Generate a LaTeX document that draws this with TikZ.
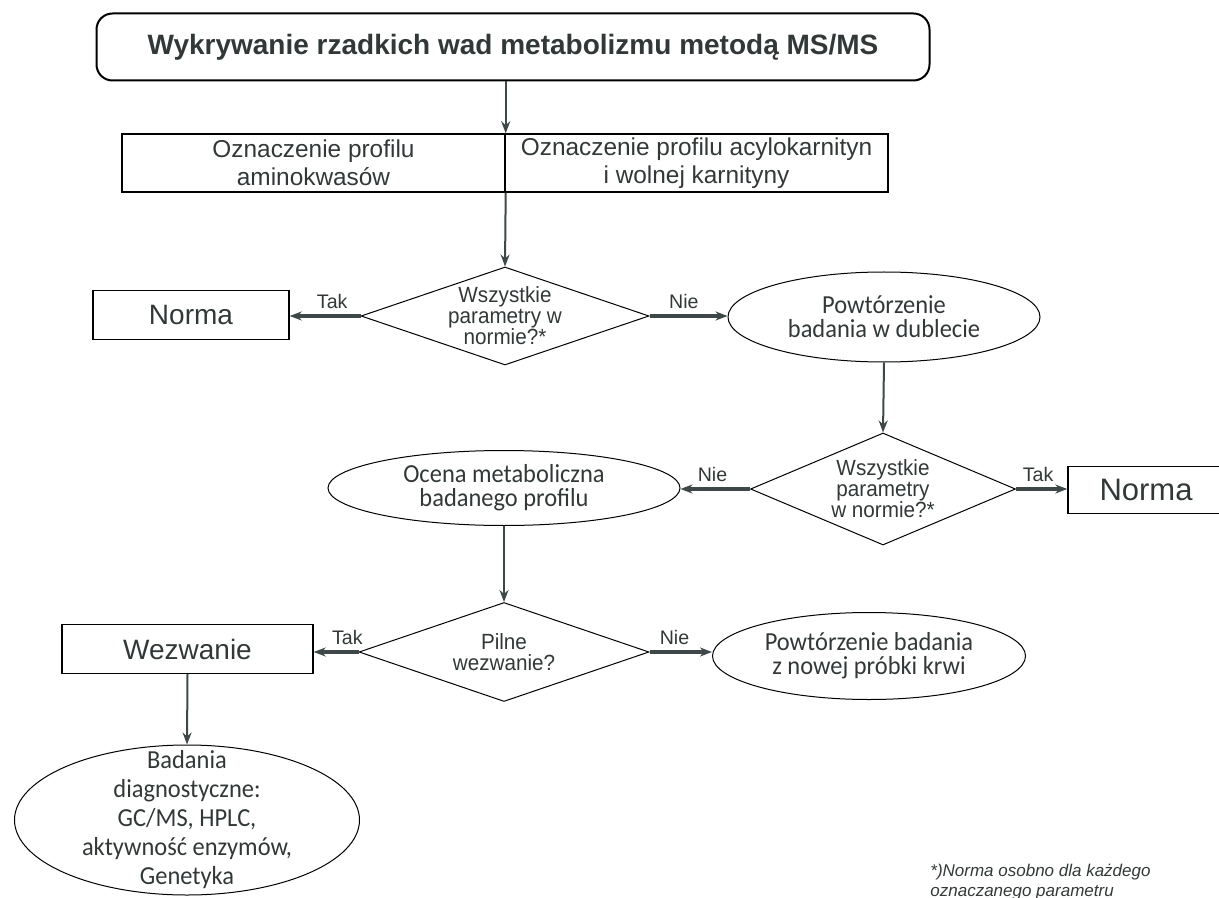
\documentclass[tikz,border=0pt]{standalone}
\usepackage{fontspec}
\setmainfont{Liberation Sans}
\newfontfamily\ellfont[FakeStretch=0.94]{Carlito}
\newfontfamily\narrowfont[FakeStretch=0.94]{Liberation Sans}
\usepackage{tikz}
\usetikzlibrary{positioning,arrows.meta,shapes.geometric}
\definecolor{linegray}{RGB}{62,72,72}
\definecolor{textgray}{RGB}{50,56,56}
\tikzset{
  titlebox/.style={rectangle,rounded corners=8pt,draw=black,line width=1pt,minimum width=416.5pt,minimum height=33.5pt,font=\fontsize{14}{16}\selectfont\bfseries,text=textgray},
  cellbox/.style={rectangle,draw=black,line width=0.7pt,align=center,minimum width=191.5pt,minimum height=29pt,inner sep=0pt,font=\fontsize{12.2}{14}\selectfont,text=textgray},
  endbox/.style={rectangle,draw=black,line width=0.7pt,inner sep=0pt,font=\fontsize{14}{16}\selectfont,text=textgray},
  decision/.style={diamond,shape aspect=2.5,draw=black,line width=0.5pt,align=center,inner xsep=0pt,inner ysep=-10pt,font=\narrowfont\fontsize{11}{10.5}\selectfont,text=textgray},
  oval/.style={ellipse,draw=black,line width=0.5pt,align=center,inner sep=0pt,font=\ellfont\fontsize{13}{12}\selectfont,text=textgray},
  lbl/.style={above,inner sep=3pt,font=\fontsize{9.8}{12}\selectfont,text=textgray},
  edge/.style={-{Stealth[length=6pt,width=4.5pt]},draw=linegray,line width=1pt},
  sideedge/.style={edge,line width=1.6pt}
}
\begin{document}
\begin{tikzpicture}[x=0.5pt,y=-0.5pt]
  \useasboundingbox (0,0) rectangle (1219,898);
  \node[titlebox] (title) at (513,47) {Wykrywanie rzadkich wad metabolizmu metodą MS/MS};
  \node[cellbox] (amino) at (313.5,163) {Oznaczenie profilu\\aminokwasów};
  \node[cellbox] (acyl) at (696.5,163) {Oznaczenie profilu acylokarnityn\\i wolnej karnityny};
  \node[decision,minimum width=144pt,minimum height=49pt] (dec1) at (505,316) {Wszystkie\\parametry w\\normie?*};
  \node[endbox,minimum width=98pt,minimum height=24.5pt] (norma1) at (191,315) {Norma};
  \node[oval,minimum width=156pt,minimum height=45pt] (dubl) at (884,317) {Powtórzenie\\badania w dublecie};
  \node[decision,minimum width=132.5pt,minimum height=56pt] (dec2) at (883,489) {Wszystkie\\parametry\\w normie?*};
  \node[oval,minimum width=176pt,minimum height=37.5pt] (ocena) at (504,488) {Ocena metaboliczna\\badanego profilu};
  \node[endbox,minimum width=78pt,minimum height=23.5pt,font=\fontsize{15.5}{17}\selectfont] (norma2) at (1146,490) {Norma};
  \node[decision,minimum width=145pt,minimum height=49.5pt] (dec3) at (504,652) {Pilne\\wezwanie?};
  \node[endbox,minimum width=125.5pt,minimum height=24.5pt] (wez) at (187.5,649) {Wezwanie};
  \node[oval,minimum width=172.5pt,minimum height=75pt,inner ysep=-10.5pt,font=\ellfont\fontsize{13}{14.5}\selectfont] (diag) at (187,820) {Badania\\diagnostyczne:\\GC/MS, HPLC,\\aktywność enzymów,\\Genetyka};
  \node[oval,minimum width=156.5pt,minimum height=43.5pt] (probka) at (869,656) {Powtórzenie badania\\z nowej próbki krwi};
  \node[anchor=north west,align=left,inner sep=0pt,font=\fontsize{8.5}{10}\selectfont\itshape,text=textgray] (note) at (930,864) {*)Norma osobno dla każdego\\oznaczanego parametru};
  % connectors
  \draw[edge] (title.south -| amino.north east) -- (amino.north east);
  \draw[edge] (amino.south east) -- (dec1.north);
  \draw[sideedge] (dec1.west) -- (dec1.west -| norma1.east) node[lbl,pos=0.4] {Tak};
  \draw[sideedge] (dec1.east) -- (dec1.east -| dubl.west) node[lbl,pos=0.44] {Nie};
  \draw[edge] (dubl.south) -- (dec2.north);
  \draw[sideedge] (dec2.west) -- (dec2.west -| ocena.east) node[lbl,pos=0.54] {Nie};
  \draw[sideedge] (dec2.east) -- (dec2.east -| norma2.west) node[lbl,pos=0.43] {Tak};
  \draw[edge] (ocena.south) -- (dec3.north);
  \draw[sideedge] (dec3.west) -- (dec3.west -| wez.east) node[lbl,pos=0.25] {Tak};
  \draw[sideedge] (dec3.east) -- (dec3.east -| probka.west) node[lbl,pos=0.4] {Nie};
  \draw[edge] (wez.south) -- (diag.north);
\end{tikzpicture}
\end{document}
